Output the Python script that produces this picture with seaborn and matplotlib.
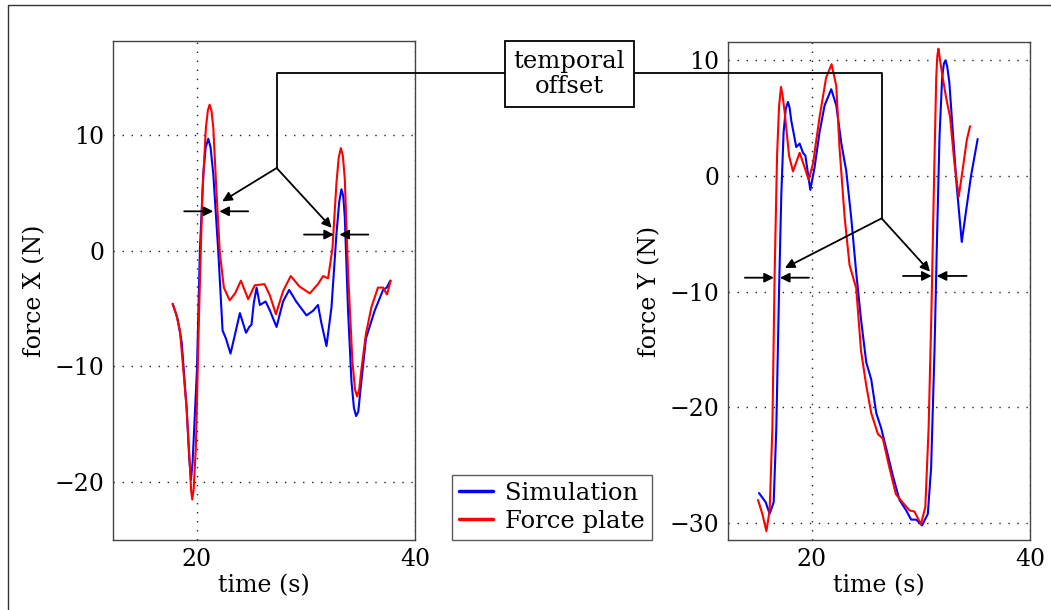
"""
plot.py - force X / force Y, simulation vs force plate, with temporal offset marks.
"""

import matplotlib
matplotlib.use("Agg")

import pandas as pd
import matplotlib.pyplot as plt
import seaborn as sns
from matplotlib.lines import Line2D

# ---- data ----
# force X, simulation
fx_sim_t = [17.77, 18.2, 18.6, 19.05, 19.3, 19.45, 19.6, 20.0, 20.27, 20.58, 20.8, 21.04,
            21.25, 21.5, 21.95, 22.35, 22.66, 23.08, 23.5, 23.94, 24.2, 24.5, 24.8, 25.0,
            25.22, 25.47, 25.77, 26.3, 26.7, 27.3, 27.9, 28.46, 29.1, 30.05, 30.65, 31.1,
            31.4, 31.88, 32.34, 32.8, 33.05, 33.25, 33.42, 33.56, 33.86, 34.17, 34.4, 34.6,
            34.8, 35.0, 35.5, 36.3, 37.07, 37.4, 37.74]
fx_sim_v = [-4.6, -5.8, -7.9, -13.6, -18.0, -19.8, -18.3, -10.3, 0.0, 6.6, 8.9, 9.66,
            8.9, 6.6, 0.0, -6.9, -7.6, -8.9, -7.2, -5.4, -6.2, -7.1, -6.6, -6.4,
            -4.5, -3.2, -4.7, -4.4, -5.2, -6.6, -4.4, -3.4, -4.4, -5.6, -5.2, -4.7,
            -6.2, -8.25, -4.9, 1.5, 4.2, 5.3, 4.7, 2.9, -5.2, -11.3, -13.6, -14.3,
            -13.9, -12.0, -7.6, -5.2, -3.4, -3.2, -2.6]
# force X, force plate
fx_fp_t = [17.77, 18.1, 18.44, 19.05, 19.36, 19.47, 19.57, 19.7, 19.9, 20.2, 20.5, 20.82,
           21.0, 21.16, 21.33, 21.5, 21.8, 22.1, 22.47, 23.0, 23.5, 24.03, 24.7, 25.3,
           26.2, 26.7, 27.24, 27.9, 28.6, 29.4, 30.35, 31.1, 31.57, 32.03, 32.43, 32.8,
           33.0, 33.2, 33.38, 33.56, 33.86, 34.26, 34.5, 34.69, 34.88, 35.08, 35.5, 36.0,
           36.6, 37.07, 37.43, 37.77]
fx_fp_v = [-4.6, -5.5, -6.9, -13.6, -18.7, -20.8, -21.5, -20.6, -17.0, -5.2, 4.9, 10.6,
           12.1, 12.6, 12.1, 10.6, 4.9, -0.2, -3.2, -4.3, -3.7, -2.6, -4.2, -3.0,
           -2.9, -3.9, -5.5, -3.5, -2.2, -3.1, -3.7, -2.9, -2.2, -2.4, 0.2, 5.9,
           8.0, 8.85, 8.2, 6.2, -1.9, -9.6, -12.0, -12.6, -12.0, -10.3, -7.2, -4.9,
           -3.2, -3.2, -3.8, -2.6]
# force Y, simulation
fy_sim_t = [15.14, 15.76, 16.12, 16.49, 16.73, 16.98, 17.19, 17.4, 17.6, 17.8, 17.95, 18.1,
            18.56, 18.87, 19.18, 19.4, 19.85, 20.24, 20.7, 21.16, 21.77, 22.23, 22.7, 23.15,
            23.6, 24.06, 24.5, 24.98, 25.44, 25.9, 26.35, 26.8, 27.42, 28.03, 28.64, 29.1,
            29.56, 30.1, 30.63, 30.93, 31.24, 31.48, 31.7, 31.94, 32.1, 32.25, 32.4, 32.6,
            32.9, 33.28, 33.74, 34.14, 34.6, 35.2]
fy_sim_v = [-27.4, -28.2, -29.2, -28.2, -21.8, -10.0, -1.6, 3.8, 5.8, 6.4, 5.9, 4.8,
            2.5, 2.8, 2.0, 1.75, -1.2, 0.74, 3.8, 6.1, 7.5, 6.1, 2.8, 0.4,
            -3.6, -8.35, -12.4, -16.1, -17.6, -20.5, -21.8, -23.5, -25.9, -28.0, -28.9, -29.7,
            -29.7, -30.2, -29.2, -25.2, -15.1, -5.0, 3.4, 8.5, 9.7, 10.0, 9.5, 8.1,
            4.1, -0.9, -5.7, -3.0, 0.07, 3.2]
# force Y, force plate
fy_fp_t = [15.05, 15.45, 15.82, 16.12, 16.37, 16.58, 16.8, 16.98, 17.16, 17.3, 17.5, 17.9,
           18.26, 18.87, 19.33, 19.7, 20.1, 20.7, 21.3, 21.8, 22.23, 22.53, 23.0, 23.45,
           24.06, 24.5, 24.98, 25.44, 26.05, 26.5, 27.1, 27.7, 28.3, 28.95, 29.4, 30.0,
           30.4, 30.7, 30.96, 31.17, 31.4, 31.5, 31.6, 31.75, 31.94, 32.3, 32.67, 33.07,
           33.46, 33.8, 34.2, 34.5]
fy_fp_v = [-28.0, -29.2, -30.7, -28.9, -21.8, -8.35, 1.75, 6.0, 7.7, 7.0, 5.5, 1.75,
           0.4, 2.0, 0.74, -0.34, 1.1, 5.1, 8.5, 9.66, 7.8, 2.4, -3.6, -7.7,
           -9.7, -15.1, -18.1, -20.5, -22.3, -22.7, -25.2, -27.5, -28.2, -28.9, -29.0, -30.1,
           -28.6, -21.8, -11.7, -1.6, 8.5, 10.4, 11.0, 10.0, 8.8, 6.8, 5.1, 1.1,
           -1.8, 0.4, 3.1, 4.3]

series_names = ["Simulation", "Force plate"]
x_ticks = [20, 40]
fx_yticks = [10, 0, -10, -20]
fy_yticks = [10, 0, -10, -20, -30]

# offset marks: (level, tail, head) in data coords, knee + targets for the pointers
fx_pairs = [(3.39, 18.83, 21.5), (3.39, 24.7, 22.05), (1.38, 29.82, 32.57), (1.38, 35.72, 33.06)]
fx_knee = (27.31, 7.13)
fx_targets = [(22.32, 4.25), (32.36, 1.96)]
fy_pairs = [(-8.79, 13.85, 16.51), (-8.79, 19.72, 17.06), (-8.64, 28.35, 30.98), (-8.64, 34.19, 31.44)]
fy_knee = (26.39, -3.66)
fy_targets = [(17.52, -7.95), (30.83, -8.27)]

W, H = 1051, 610
sns.set_style("white")
plt.rcParams["font.family"] = ["DejaVu Serif"]
plt.rcParams["text.color"] = "black"
plt.rcParams["axes.labelcolor"] = "black"
plt.rcParams["xtick.color"] = "black"
plt.rcParams["ytick.color"] = "black"
FS = 17
palette = {"Simulation": "#0000ff", "Force plate": "#ff0000"}


def to_frame(t_sim, v_sim, t_fp, v_fp):
    a = pd.DataFrame({"t": t_sim, "v": v_sim, "src": series_names[0]})
    b = pd.DataFrame({"t": t_fp, "v": v_fp, "src": series_names[1]})
    return pd.concat([a, b], ignore_index=True)


def fig_xy(px, py):
    """pixel (from top-left) -> figure fraction"""
    return px / W, 1 - py / H


fig = plt.figure(figsize=(W / 100, H / 100), dpi=100)
ax1 = fig.add_axes([113 / W, 1 - 540 / H, 302 / W, 499 / H])
ax2 = fig.add_axes([728 / W, 1 - 540 / H, 302 / W, 498 / H])

panels = [
    (ax1, to_frame(fx_sim_t, fx_sim_v, fx_fp_t, fx_fp_v), (-25.0, 18.1), fx_yticks, "force X (N)"),
    (ax2, to_frame(fy_sim_t, fy_sim_v, fy_fp_t, fy_fp_v), (-31.46, 11.58), fy_yticks, "force Y (N)"),
]
for ax, df, ylim, yticks, ylabel in panels:
    sns.lineplot(data=df, x="t", y="v", hue="src", palette=palette, sort=False,
                 estimator=None, linewidth=1.5, legend=False, ax=ax)
    ax.set_xlim(12.3, 40)
    ax.set_ylim(*ylim)
    ax.set_xticks(x_ticks)
    ax.set_yticks(yticks)
    ax.grid(True, linestyle=(0, (1, 5.5)), color="#222222", linewidth=1.0)
    ax.tick_params(direction="in", length=4, labelsize=FS, pad=6)
    ax.set_xlabel("time (s)", fontsize=FS, labelpad=2)
    ax.set_ylabel(ylabel, fontsize=FS, labelpad=6)
    for sp in ax.spines.values():
        sp.set_color("#444444")
        sp.set_linewidth(1.0)

# horizontal offset arrows and the pointers from the knee
arrow_kw = dict(arrowstyle="-|>", color="black", lw=1.3, mutation_scale=14,
                shrinkA=0, shrinkB=0)
for ax, pairs, knee, targets in [(ax1, fx_pairs, fx_knee, fx_targets),
                                 (ax2, fy_pairs, fy_knee, fy_targets)]:
    for level, tail, head in pairs:
        ax.annotate("", xy=(head, level), xytext=(tail, level),
                    arrowprops=arrow_kw, annotation_clip=False)
    for tx, ty in targets:
        ax.annotate("", xy=(tx, ty), xytext=knee, arrowprops=arrow_kw,
                    annotation_clip=False)

# connectors from the label box down to the knees
left_path = [fig_xy(505, 73), fig_xy(276.7, 73), fig_xy(276.7, 168.3)]
right_path = [fig_xy(634, 73), fig_xy(881.7, 73), fig_xy(881.7, 218.3)]
for path in (left_path, right_path):
    xs, ys = zip(*path)
    fig.add_artist(Line2D(xs, ys, color="black", lw=1.3, transform=fig.transFigure))

bx, by = fig_xy(569.5, 74)
fig.text(bx, by, "temporal\noffset", ha="center", va="center", fontsize=17.5,
         linespacing=1.15,
         bbox=dict(boxstyle="square,pad=0.35", facecolor="white", edgecolor="black", lw=1.3))

# legend between the panels
handles = [Line2D([], [], color=palette[n], lw=2.5) for n in series_names]
lx, ly = fig_xy(451.7, 474.5)
leg = fig.legend(handles, series_names, loc="upper left", bbox_to_anchor=(lx, ly),
                 fontsize=17.5, frameon=True, fancybox=False, handlelength=1.4,
                 handletextpad=0.5, borderpad=0.3, labelspacing=0.2, borderaxespad=0)
leg.get_frame().set_edgecolor("#333333")
leg.get_frame().set_linewidth(1.0)

# outer frame of the figure
fig.add_artist(Line2D([8 / W, 8 / W, 1.0], [0.0, 1 - 5 / H, 1 - 5 / H],
                      color="#333333", lw=1.0, transform=fig.transFigure))

fig.savefig("out.png", dpi=100)
